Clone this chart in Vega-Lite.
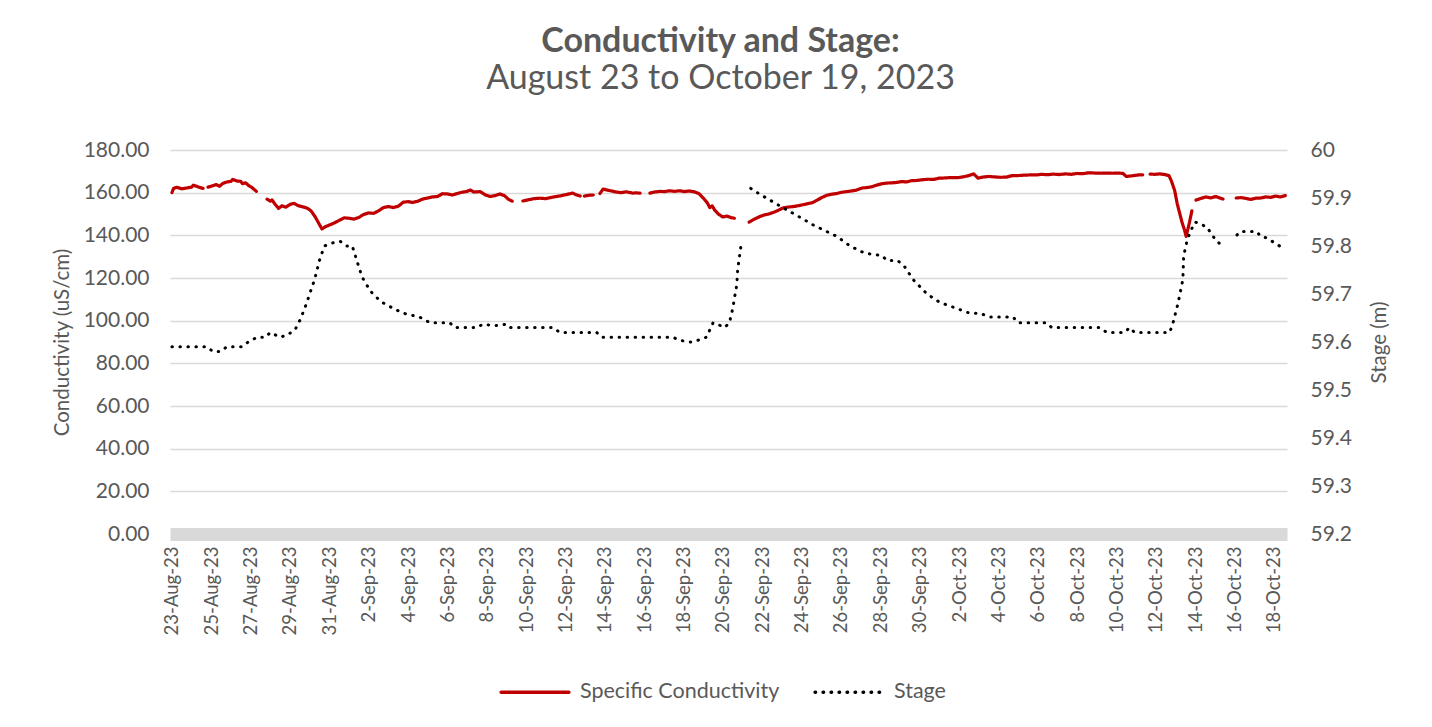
{
  "$schema": "https://vega.github.io/schema/vega-lite/v6.json",
  "width": 1117,
  "height": 384,
  "autosize": {"type": "none"},
  "padding": {"left": 170, "top": 150, "right": 145, "bottom": 193},
  "background": "white",
  "title": {
    "text": "Conductivity and Stage:",
    "subtitle": "August 23 to October 19, 2023",
    "font": "Lato", "fontSize": 34, "fontWeight": "bold", "color": "#595959",
    "subtitleFont": "Lato", "subtitleFontSize": 34, "subtitleColor": "#595959",
    "subtitlePadding": 3,
    "anchor": "middle", "offset": 43, "dx": -8
  },
  "config": {
    "view": {"stroke": null},
    "font": "Lato",
    "legend": {
      "orient": "none", "direction": "horizontal", "legendX": 329, "legendY": 506,
      "symbolType": "stroke", "symbolSize": 4600, "symbolStrokeWidth": 3.5,
      "labelFont": "Lato", "labelFontSize": 21.5, "labelColor": "#595959", "labelOffset": 9,
      "labelLimit": 400, "columnPadding": 28
    }
  },
  "datasets": {
    "cond": [
      {"t": "2023-08-23T00:00", "v": 160.0},
      {"t": "2023-08-23T02:00", "v": 162.0},
      {"t": "2023-08-23T06:00", "v": 162.5},
      {"t": "2023-08-23T12:00", "v": 161.8},
      {"t": "2023-08-23T18:00", "v": 162.2},
      {"t": "2023-08-24T00:00", "v": 162.6},
      {"t": "2023-08-24T02:00", "v": 163.5},
      {"t": "2023-08-24T06:00", "v": 163.0},
      {"t": "2023-08-24T10:00", "v": 162.4},
      {"t": "2023-08-24T14:00", "v": 162.0},
      {"t": "2023-08-24T17:00", "v": null},
      {"t": "2023-08-24T20:00", "v": 162.6},
      {"t": "2023-08-25T00:00", "v": 163.0},
      {"t": "2023-08-25T06:00", "v": 163.8},
      {"t": "2023-08-25T10:00", "v": 163.0},
      {"t": "2023-08-25T14:00", "v": 164.3},
      {"t": "2023-08-25T19:00", "v": 165.0},
      {"t": "2023-08-26T00:00", "v": 165.3},
      {"t": "2023-08-26T02:00", "v": 166.2},
      {"t": "2023-08-26T07:00", "v": 165.5},
      {"t": "2023-08-26T12:00", "v": 165.3},
      {"t": "2023-08-26T14:00", "v": 164.2},
      {"t": "2023-08-26T18:00", "v": 164.6},
      {"t": "2023-08-26T22:00", "v": 163.2},
      {"t": "2023-08-27T02:00", "v": 162.3},
      {"t": "2023-08-27T07:00", "v": 160.6},
      {"t": "2023-08-27T10:00", "v": null},
      {"t": "2023-08-27T20:00", "v": 157.0},
      {"t": "2023-08-28T00:00", "v": 156.0},
      {"t": "2023-08-28T02:00", "v": 156.6},
      {"t": "2023-08-28T06:00", "v": 154.5},
      {"t": "2023-08-28T10:00", "v": 152.6},
      {"t": "2023-08-28T14:00", "v": 153.8},
      {"t": "2023-08-28T19:00", "v": 153.2},
      {"t": "2023-08-29T00:00", "v": 154.5},
      {"t": "2023-08-29T05:00", "v": 155.0},
      {"t": "2023-08-29T10:00", "v": 153.9},
      {"t": "2023-08-29T14:00", "v": 153.5},
      {"t": "2023-08-29T19:00", "v": 153.0},
      {"t": "2023-08-29T23:00", "v": 152.3},
      {"t": "2023-08-30T02:00", "v": 151.3},
      {"t": "2023-08-30T07:00", "v": 148.5},
      {"t": "2023-08-30T12:00", "v": 145.0},
      {"t": "2023-08-30T15:00", "v": 143.0},
      {"t": "2023-08-30T19:00", "v": 144.0},
      {"t": "2023-08-31T00:00", "v": 144.8},
      {"t": "2023-08-31T06:00", "v": 145.8},
      {"t": "2023-08-31T12:00", "v": 147.0},
      {"t": "2023-08-31T18:00", "v": 148.2},
      {"t": "2023-09-01T00:00", "v": 148.0},
      {"t": "2023-09-01T06:00", "v": 147.6},
      {"t": "2023-09-01T12:00", "v": 148.4},
      {"t": "2023-09-01T18:00", "v": 149.8},
      {"t": "2023-09-02T00:00", "v": 150.5},
      {"t": "2023-09-02T06:00", "v": 150.3},
      {"t": "2023-09-02T12:00", "v": 151.5},
      {"t": "2023-09-02T18:00", "v": 153.0},
      {"t": "2023-09-03T00:00", "v": 153.5},
      {"t": "2023-09-03T06:00", "v": 153.0},
      {"t": "2023-09-03T12:00", "v": 153.6},
      {"t": "2023-09-03T18:00", "v": 155.5},
      {"t": "2023-09-04T00:00", "v": 155.8},
      {"t": "2023-09-04T06:00", "v": 155.4},
      {"t": "2023-09-04T12:00", "v": 156.0},
      {"t": "2023-09-04T18:00", "v": 157.0},
      {"t": "2023-09-05T00:00", "v": 157.5},
      {"t": "2023-09-05T06:00", "v": 158.0},
      {"t": "2023-09-05T12:00", "v": 158.2},
      {"t": "2023-09-05T18:00", "v": 159.5},
      {"t": "2023-09-06T00:00", "v": 159.4},
      {"t": "2023-09-06T06:00", "v": 158.9},
      {"t": "2023-09-06T12:00", "v": 159.6},
      {"t": "2023-09-06T18:00", "v": 160.2},
      {"t": "2023-09-07T00:00", "v": 160.6},
      {"t": "2023-09-07T04:00", "v": 161.2},
      {"t": "2023-09-07T08:00", "v": 160.3},
      {"t": "2023-09-07T16:00", "v": 160.5},
      {"t": "2023-09-07T22:00", "v": 159.0},
      {"t": "2023-09-08T04:00", "v": 158.2},
      {"t": "2023-09-08T10:00", "v": 158.6},
      {"t": "2023-09-08T16:00", "v": 159.4},
      {"t": "2023-09-08T22:00", "v": 158.5},
      {"t": "2023-09-09T02:00", "v": 157.0},
      {"t": "2023-09-09T07:00", "v": 156.0},
      {"t": "2023-09-09T10:00", "v": null},
      {"t": "2023-09-09T20:00", "v": 156.1},
      {"t": "2023-09-10T02:00", "v": 156.6},
      {"t": "2023-09-10T10:00", "v": 157.2},
      {"t": "2023-09-10T17:00", "v": 157.4},
      {"t": "2023-09-11T00:00", "v": 157.2},
      {"t": "2023-09-11T07:00", "v": 157.8},
      {"t": "2023-09-11T13:00", "v": 158.2},
      {"t": "2023-09-11T19:00", "v": 158.6},
      {"t": "2023-09-12T02:00", "v": 159.2},
      {"t": "2023-09-12T09:00", "v": 159.8},
      {"t": "2023-09-12T13:00", "v": 159.0},
      {"t": "2023-09-12T18:00", "v": 158.4},
      {"t": "2023-09-12T20:00", "v": null},
      {"t": "2023-09-12T23:00", "v": 158.4},
      {"t": "2023-09-13T05:00", "v": 158.8},
      {"t": "2023-09-13T10:00", "v": 158.9},
      {"t": "2023-09-13T12:00", "v": null},
      {"t": "2023-09-13T18:00", "v": 159.6},
      {"t": "2023-09-13T22:00", "v": 161.7},
      {"t": "2023-09-14T02:00", "v": 161.3},
      {"t": "2023-09-14T08:00", "v": 160.8},
      {"t": "2023-09-14T14:00", "v": 160.3},
      {"t": "2023-09-14T20:00", "v": 160.0},
      {"t": "2023-09-15T02:00", "v": 160.4},
      {"t": "2023-09-15T10:00", "v": 159.8},
      {"t": "2023-09-15T14:00", "v": 159.9},
      {"t": "2023-09-15T19:00", "v": 159.8},
      {"t": "2023-09-16T00:00", "v": null},
      {"t": "2023-09-16T07:00", "v": 159.8},
      {"t": "2023-09-16T13:00", "v": 160.3},
      {"t": "2023-09-16T19:00", "v": 160.6},
      {"t": "2023-09-17T01:00", "v": 160.5},
      {"t": "2023-09-17T07:00", "v": 160.9},
      {"t": "2023-09-17T13:00", "v": 160.6},
      {"t": "2023-09-17T19:00", "v": 160.9},
      {"t": "2023-09-18T01:00", "v": 160.5},
      {"t": "2023-09-18T07:00", "v": 160.8},
      {"t": "2023-09-18T13:00", "v": 160.4},
      {"t": "2023-09-18T19:00", "v": 159.5},
      {"t": "2023-09-19T00:00", "v": 157.5},
      {"t": "2023-09-19T05:00", "v": 155.2},
      {"t": "2023-09-19T08:00", "v": 153.0},
      {"t": "2023-09-19T11:00", "v": 153.8},
      {"t": "2023-09-19T14:00", "v": 151.8},
      {"t": "2023-09-19T19:00", "v": 149.8},
      {"t": "2023-09-20T00:00", "v": 148.6},
      {"t": "2023-09-20T05:00", "v": 149.0},
      {"t": "2023-09-20T10:00", "v": 148.3},
      {"t": "2023-09-20T14:00", "v": 148.0},
      {"t": "2023-09-20T17:00", "v": null},
      {"t": "2023-09-21T08:00", "v": 146.2},
      {"t": "2023-09-21T14:00", "v": 147.5},
      {"t": "2023-09-21T21:00", "v": 148.8},
      {"t": "2023-09-22T02:00", "v": 149.5},
      {"t": "2023-09-22T08:00", "v": 150.0},
      {"t": "2023-09-22T14:00", "v": 150.8},
      {"t": "2023-09-22T20:00", "v": 151.8},
      {"t": "2023-09-23T01:00", "v": 152.8},
      {"t": "2023-09-23T07:00", "v": 153.2},
      {"t": "2023-09-23T16:00", "v": 153.6},
      {"t": "2023-09-24T00:00", "v": 154.2},
      {"t": "2023-09-24T07:00", "v": 154.8},
      {"t": "2023-09-24T13:00", "v": 155.3},
      {"t": "2023-09-24T19:00", "v": 156.5},
      {"t": "2023-09-25T01:00", "v": 157.8},
      {"t": "2023-09-25T07:00", "v": 158.8},
      {"t": "2023-09-25T13:00", "v": 159.3},
      {"t": "2023-09-25T19:00", "v": 159.6},
      {"t": "2023-09-26T01:00", "v": 160.2},
      {"t": "2023-09-26T07:00", "v": 160.5},
      {"t": "2023-09-26T13:00", "v": 160.8},
      {"t": "2023-09-26T19:00", "v": 161.2},
      {"t": "2023-09-27T02:00", "v": 162.2},
      {"t": "2023-09-27T08:00", "v": 162.4},
      {"t": "2023-09-27T14:00", "v": 162.8},
      {"t": "2023-09-27T20:00", "v": 163.6},
      {"t": "2023-09-28T02:00", "v": 164.2},
      {"t": "2023-09-28T08:00", "v": 164.5},
      {"t": "2023-09-28T14:00", "v": 164.6},
      {"t": "2023-09-28T20:00", "v": 164.8},
      {"t": "2023-09-29T02:00", "v": 165.2},
      {"t": "2023-09-29T08:00", "v": 165.0},
      {"t": "2023-09-29T14:00", "v": 165.6},
      {"t": "2023-09-29T20:00", "v": 165.7},
      {"t": "2023-09-30T02:00", "v": 166.0},
      {"t": "2023-09-30T10:00", "v": 166.3},
      {"t": "2023-09-30T17:00", "v": 166.2},
      {"t": "2023-10-01T00:00", "v": 166.8},
      {"t": "2023-10-01T07:00", "v": 166.9},
      {"t": "2023-10-01T14:00", "v": 167.1},
      {"t": "2023-10-01T22:00", "v": 167.0},
      {"t": "2023-10-02T05:00", "v": 167.4},
      {"t": "2023-10-02T12:00", "v": 168.0},
      {"t": "2023-10-02T18:00", "v": 168.8},
      {"t": "2023-10-02T23:00", "v": 166.8},
      {"t": "2023-10-03T05:00", "v": 167.3},
      {"t": "2023-10-03T12:00", "v": 167.6},
      {"t": "2023-10-03T19:00", "v": 167.4},
      {"t": "2023-10-04T02:00", "v": 167.2},
      {"t": "2023-10-04T10:00", "v": 167.3},
      {"t": "2023-10-04T17:00", "v": 168.0},
      {"t": "2023-10-05T00:00", "v": 168.0},
      {"t": "2023-10-05T07:00", "v": 168.2},
      {"t": "2023-10-05T14:00", "v": 168.3},
      {"t": "2023-10-05T22:00", "v": 168.3},
      {"t": "2023-10-06T05:00", "v": 168.6},
      {"t": "2023-10-06T12:00", "v": 168.4},
      {"t": "2023-10-06T19:00", "v": 168.7},
      {"t": "2023-10-07T02:00", "v": 168.5},
      {"t": "2023-10-07T10:00", "v": 168.8},
      {"t": "2023-10-07T17:00", "v": 168.6},
      {"t": "2023-10-08T00:00", "v": 169.0},
      {"t": "2023-10-08T07:00", "v": 168.9},
      {"t": "2023-10-08T14:00", "v": 169.3},
      {"t": "2023-10-08T22:00", "v": 169.2},
      {"t": "2023-10-09T05:00", "v": 169.1},
      {"t": "2023-10-09T12:00", "v": 169.2},
      {"t": "2023-10-09T19:00", "v": 169.1},
      {"t": "2023-10-10T02:00", "v": 169.2},
      {"t": "2023-10-10T08:00", "v": 169.0},
      {"t": "2023-10-10T12:00", "v": 167.6},
      {"t": "2023-10-10T17:00", "v": 167.8},
      {"t": "2023-10-10T23:00", "v": 168.1},
      {"t": "2023-10-11T05:00", "v": 168.4},
      {"t": "2023-10-11T08:00", "v": 168.3},
      {"t": "2023-10-11T12:00", "v": null},
      {"t": "2023-10-11T17:00", "v": 168.7},
      {"t": "2023-10-11T23:00", "v": 168.6},
      {"t": "2023-10-12T05:00", "v": 168.8},
      {"t": "2023-10-12T11:00", "v": 168.5},
      {"t": "2023-10-12T16:00", "v": 168.0},
      {"t": "2023-10-12T19:00", "v": 165.5},
      {"t": "2023-10-12T23:00", "v": 161.0},
      {"t": "2023-10-13T02:00", "v": 155.0},
      {"t": "2023-10-13T06:00", "v": 149.0},
      {"t": "2023-10-13T08:00", "v": 146.0},
      {"t": "2023-10-13T11:00", "v": 142.5},
      {"t": "2023-10-13T13:00", "v": 139.5},
      {"t": "2023-10-13T17:00", "v": 146.0},
      {"t": "2023-10-13T20:00", "v": 151.5},
      {"t": "2023-10-13T23:00", "v": null},
      {"t": "2023-10-14T01:00", "v": 156.5},
      {"t": "2023-10-14T07:00", "v": 157.3},
      {"t": "2023-10-14T13:00", "v": 158.0},
      {"t": "2023-10-14T19:00", "v": 157.5},
      {"t": "2023-10-15T01:00", "v": 158.2},
      {"t": "2023-10-15T07:00", "v": 157.4},
      {"t": "2023-10-15T10:00", "v": 157.0},
      {"t": "2023-10-15T14:00", "v": null},
      {"t": "2023-10-16T02:00", "v": 157.5},
      {"t": "2023-10-16T08:00", "v": 157.7},
      {"t": "2023-10-16T14:00", "v": 157.3},
      {"t": "2023-10-16T20:00", "v": 156.8},
      {"t": "2023-10-17T02:00", "v": 157.4},
      {"t": "2023-10-17T08:00", "v": 157.5},
      {"t": "2023-10-17T14:00", "v": 158.0},
      {"t": "2023-10-17T20:00", "v": 157.8},
      {"t": "2023-10-18T02:00", "v": 158.4},
      {"t": "2023-10-18T08:00", "v": 158.0},
      {"t": "2023-10-18T14:00", "v": 158.6}
    ],
    "stage": [
      {"t": "2023-08-23T00:00", "v": 59.59},
      {"t": "2023-08-23T12:00", "v": 59.59},
      {"t": "2023-08-24T00:00", "v": 59.59},
      {"t": "2023-08-24T19:00", "v": 59.59},
      {"t": "2023-08-25T02:00", "v": 59.58},
      {"t": "2023-08-25T11:00", "v": 59.58},
      {"t": "2023-08-25T19:00", "v": 59.59},
      {"t": "2023-08-26T13:00", "v": 59.59},
      {"t": "2023-08-26T21:00", "v": 59.60},
      {"t": "2023-08-27T08:00", "v": 59.61},
      {"t": "2023-08-27T18:00", "v": 59.61},
      {"t": "2023-08-28T00:00", "v": 59.62},
      {"t": "2023-08-28T12:00", "v": 59.61},
      {"t": "2023-08-28T21:00", "v": 59.615},
      {"t": "2023-08-29T06:00", "v": 59.625},
      {"t": "2023-08-29T12:00", "v": 59.645},
      {"t": "2023-08-29T18:00", "v": 59.67},
      {"t": "2023-08-30T00:00", "v": 59.70},
      {"t": "2023-08-30T06:00", "v": 59.73},
      {"t": "2023-08-30T12:00", "v": 59.77},
      {"t": "2023-08-30T18:00", "v": 59.80},
      {"t": "2023-08-31T03:00", "v": 59.806},
      {"t": "2023-08-31T13:00", "v": 59.81},
      {"t": "2023-08-31T21:00", "v": 59.80},
      {"t": "2023-09-01T04:00", "v": 59.80},
      {"t": "2023-09-01T10:00", "v": 59.767},
      {"t": "2023-09-01T16:00", "v": 59.735},
      {"t": "2023-09-01T23:00", "v": 59.715},
      {"t": "2023-09-02T05:00", "v": 59.70},
      {"t": "2023-09-02T16:00", "v": 59.683},
      {"t": "2023-09-03T06:00", "v": 59.67},
      {"t": "2023-09-03T18:00", "v": 59.66},
      {"t": "2023-09-04T14:00", "v": 59.652},
      {"t": "2023-09-05T03:00", "v": 59.64},
      {"t": "2023-09-06T03:00", "v": 59.64},
      {"t": "2023-09-06T09:00", "v": 59.63},
      {"t": "2023-09-07T03:00", "v": 59.63},
      {"t": "2023-09-07T12:00", "v": 59.63},
      {"t": "2023-09-07T19:00", "v": 59.637},
      {"t": "2023-09-08T10:00", "v": 59.634},
      {"t": "2023-09-09T00:00", "v": 59.637},
      {"t": "2023-09-09T04:00", "v": 59.63},
      {"t": "2023-09-11T09:00", "v": 59.63},
      {"t": "2023-09-11T17:00", "v": 59.62},
      {"t": "2023-09-13T14:00", "v": 59.62},
      {"t": "2023-09-13T20:00", "v": 59.61},
      {"t": "2023-09-17T11:00", "v": 59.61},
      {"t": "2023-09-17T17:00", "v": 59.605},
      {"t": "2023-09-18T05:00", "v": 59.60},
      {"t": "2023-09-18T11:00", "v": 59.60},
      {"t": "2023-09-18T20:00", "v": 59.605},
      {"t": "2023-09-19T04:00", "v": 59.61},
      {"t": "2023-09-19T12:00", "v": 59.64},
      {"t": "2023-09-19T20:00", "v": 59.635},
      {"t": "2023-09-20T02:00", "v": 59.63},
      {"t": "2023-09-20T08:00", "v": 59.64},
      {"t": "2023-09-20T12:00", "v": 59.67},
      {"t": "2023-09-20T17:00", "v": 59.72},
      {"t": "2023-09-20T18:00", "v": 59.75},
      {"t": "2023-09-20T22:00", "v": 59.80},
      {"t": "2023-09-20T23:00", "v": 59.81},
      {"t": "2023-09-21T02:00", "v": null},
      {"t": "2023-09-21T10:00", "v": 59.92},
      {"t": "2023-09-21T19:00", "v": 59.91},
      {"t": "2023-09-22T09:00", "v": 59.896},
      {"t": "2023-09-23T01:00", "v": 59.88},
      {"t": "2023-09-23T22:00", "v": 59.86},
      {"t": "2023-09-24T14:00", "v": 59.844},
      {"t": "2023-09-25T19:00", "v": 59.82},
      {"t": "2023-09-26T11:00", "v": 59.80},
      {"t": "2023-09-27T05:00", "v": 59.785},
      {"t": "2023-09-28T02:00", "v": 59.78},
      {"t": "2023-09-28T08:00", "v": 59.77},
      {"t": "2023-09-28T21:00", "v": 59.77},
      {"t": "2023-09-29T06:00", "v": 59.756},
      {"t": "2023-09-29T16:00", "v": 59.73},
      {"t": "2023-09-30T09:00", "v": 59.70},
      {"t": "2023-10-01T00:00", "v": 59.683},
      {"t": "2023-10-01T21:00", "v": 59.67},
      {"t": "2023-10-02T13:00", "v": 59.66},
      {"t": "2023-10-03T01:00", "v": 59.66},
      {"t": "2023-10-03T14:00", "v": 59.652},
      {"t": "2023-10-04T18:00", "v": 59.652},
      {"t": "2023-10-05T00:00", "v": 59.64},
      {"t": "2023-10-06T11:00", "v": 59.64},
      {"t": "2023-10-06T17:00", "v": 59.63},
      {"t": "2023-10-09T04:00", "v": 59.63},
      {"t": "2023-10-09T12:00", "v": 59.62},
      {"t": "2023-10-10T10:00", "v": 59.62},
      {"t": "2023-10-10T16:00", "v": 59.63},
      {"t": "2023-10-10T22:00", "v": 59.62},
      {"t": "2023-10-12T17:00", "v": 59.62},
      {"t": "2023-10-12T21:00", "v": 59.64},
      {"t": "2023-10-13T03:00", "v": 59.68},
      {"t": "2023-10-13T09:00", "v": 59.73},
      {"t": "2023-10-13T10:00", "v": 59.78},
      {"t": "2023-10-13T14:00", "v": 59.81},
      {"t": "2023-10-13T18:00", "v": 59.83},
      {"t": "2023-10-14T00:00", "v": 59.85},
      {"t": "2023-10-14T14:00", "v": 59.84},
      {"t": "2023-10-15T02:00", "v": 59.81},
      {"t": "2023-10-15T10:00", "v": 59.80},
      {"t": "2023-10-15T14:00", "v": null},
      {"t": "2023-10-16T03:00", "v": 59.823},
      {"t": "2023-10-16T07:00", "v": 59.83},
      {"t": "2023-10-16T15:00", "v": 59.83},
      {"t": "2023-10-17T03:00", "v": 59.83},
      {"t": "2023-10-17T08:00", "v": 59.82},
      {"t": "2023-10-17T15:00", "v": 59.817},
      {"t": "2023-10-18T07:00", "v": 59.80}
    ]
  },
  "encoding": {
    "x": {
      "field": "t", "type": "temporal",
      "scale": {"domain": ["2023-08-22T21:40", "2023-10-18T16:00"]},
      "axis": {
        "title": null,
        "format": "%-d-%b-%y",
        "values": [
          {"year": 2023, "month": "aug", "date": 23}, {"year": 2023, "month": "aug", "date": 25},
          {"year": 2023, "month": "aug", "date": 27}, {"year": 2023, "month": "aug", "date": 29},
          {"year": 2023, "month": "aug", "date": 31}, {"year": 2023, "month": "sep", "date": 2},
          {"year": 2023, "month": "sep", "date": 4}, {"year": 2023, "month": "sep", "date": 6},
          {"year": 2023, "month": "sep", "date": 8}, {"year": 2023, "month": "sep", "date": 10},
          {"year": 2023, "month": "sep", "date": 12}, {"year": 2023, "month": "sep", "date": 14},
          {"year": 2023, "month": "sep", "date": 16}, {"year": 2023, "month": "sep", "date": 18},
          {"year": 2023, "month": "sep", "date": 20}, {"year": 2023, "month": "sep", "date": 22},
          {"year": 2023, "month": "sep", "date": 24}, {"year": 2023, "month": "sep", "date": 26},
          {"year": 2023, "month": "sep", "date": 28}, {"year": 2023, "month": "sep", "date": 30},
          {"year": 2023, "month": "oct", "date": 2}, {"year": 2023, "month": "oct", "date": 4},
          {"year": 2023, "month": "oct", "date": 6}, {"year": 2023, "month": "oct", "date": 8},
          {"year": 2023, "month": "oct", "date": 10}, {"year": 2023, "month": "oct", "date": 12},
          {"year": 2023, "month": "oct", "date": 14}, {"year": 2023, "month": "oct", "date": 16},
          {"year": 2023, "month": "oct", "date": 18}
        ],
        "labelAngle": 270,
        "labelFont": "Lato", "labelFontSize": 18.5, "labelColor": "#595959",
        "labelPadding": 12, "labelOverlap": false, "labelSeparation": 0, "labelBound": false, "labelFlush": false,
        "ticks": false, "grid": false,
        "domainColor": "#d9d9d9", "domainWidth": 13
      }
    }
  },
  "layer": [
    {
      "data": {"name": "cond"},
      "mark": {"type": "line", "strokeWidth": 3.2, "strokeCap": "round", "strokeJoin": "round", "invalid": "break-paths-filter-domains"},
      "encoding": {
        "y": {
          "field": "v", "type": "quantitative",
          "scale": {"domain": [0, 180], "nice": false, "zero": false},
          "axis": {
            "title": "Conductivity (uS/cm)",
            "values": [0, 20, 40, 60, 80, 100, 120, 140, 160, 180],
            "format": ".2f",
            "labelFont": "Lato", "labelFontSize": 21, "labelColor": "#595959", "labelPadding": 21,
            "titleFont": "Lato", "titleFontSize": 20.5, "titleColor": "#595959", "titleFontWeight": "normal", "titlePadding": 11,
            "ticks": false, "domain": false,
            "grid": true, "gridColor": "#d9d9d9", "gridWidth": 1.5
          }
        },
        "color": {
          "datum": "Specific Conductivity", "type": "nominal",
          "scale": {"domain": ["Specific Conductivity", "Stage"], "range": ["#C00000", "#000000"]},
          "legend": {"title": null, "encode": {"symbols": {"update": {"strokeCap": {"value": "round"}}}}}
        },
        "strokeDash": {
          "datum": "Specific Conductivity", "type": "nominal",
          "scale": {"domain": ["Specific Conductivity", "Stage"], "range": [[1, 0], [0.5, 7.5]]},
          "legend": {"title": null, "encode": {"symbols": {"update": {"strokeCap": {"value": "round"}}}}}
        }
      }
    },
    {
      "data": {"name": "stage"},
      "mark": {"type": "line", "strokeWidth": 3, "strokeCap": "round", "invalid": "break-paths-filter-domains"},
      "encoding": {
        "y": {
          "field": "v", "type": "quantitative",
          "scale": {"domain": [59.2, 60], "nice": false, "zero": false},
          "axis": {
            "orient": "right",
            "title": "Stage (m)",
            "titleAngle": 270,
            "values": [59.2, 59.3, 59.4, 59.5, 59.6, 59.7, 59.8, 59.9, 60],
            "format": ".4~g",
            "labelFont": "Lato", "labelFontSize": 21, "labelColor": "#595959", "labelPadding": 23,
            "titleFont": "Lato", "titleFontSize": 20.5, "titleColor": "#595959", "titleFontWeight": "normal", "titlePadding": 38,
            "ticks": false, "domain": false, "grid": false
          }
        },
        "color": {"datum": "Stage", "type": "nominal"},
        "strokeDash": {"datum": "Stage", "type": "nominal"}
      }
    }
  ],
  "resolve": {"scale": {"y": "independent"}}
}
